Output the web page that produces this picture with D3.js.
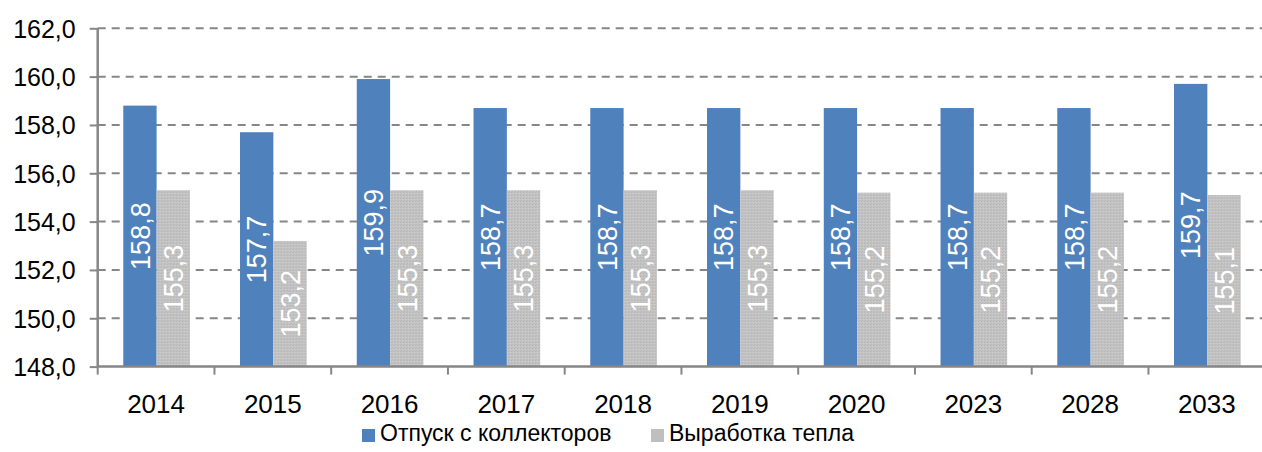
<!DOCTYPE html>
<html><head><meta charset="utf-8">
<script src="https://cdn.jsdelivr.net/npm/d3@7"></script>
<style>html,body{margin:0;padding:0;background:#fff;overflow:hidden}svg{display:block}text{font-family:"Liberation Sans",Arial,sans-serif}</style>
</head><body>
<svg id="c" width="1262" height="452"></svg>
<script>
const categories = ["2014","2015","2016","2017","2018","2019","2020","2023","2028","2033"];
const otpusk = [158.8,157.7,159.9,158.7,158.7,158.7,158.7,158.7,158.7,159.7];
const vyrabotka = [155.3,153.2,155.3,155.3,155.3,155.3,155.2,155.2,155.2,155.1];
const seriesNames = ["Отпуск с коллекторов","Выработка тепла"];
const yTicks = [148,150,152,154,156,158,160,162];

const svg = d3.select("#c");
const pL = 97.7, pR = 1265.2, pT = 28.3, pB = 366.6;
const x0 = d3.scaleBand().domain(categories).range([pL,pR]).padding(0);
const step = x0.bandwidth();
const x1 = d3.scaleBand().domain(seriesNames).range([step*0.219, step*0.79]).padding(0);
const y = d3.scaleLinear().domain([148,162]).range([pB,pT]);
const fmt = v => d3.format(".1f")(v).replace(".",",");

const defs = svg.append("defs");
const pat = defs.append("pattern").attr("id","gp").attr("width",3).attr("height",3).attr("patternUnits","userSpaceOnUse");
pat.append("rect").attr("width",3).attr("height",3).attr("fill","#c3c3c3");
pat.append("rect").attr("x",0).attr("y",0).attr("width",1).attr("height",1).attr("fill","#b2b2b2");
pat.append("rect").attr("x",2).attr("y",1).attr("width",1).attr("height",1).attr("fill","#d0d0d0");
pat.append("rect").attr("x",1).attr("y",2).attr("width",1).attr("height",1).attr("fill","#b8b8b8");
const colors = {"Отпуск с коллекторов":"#4F81BD","Выработка тепла":"url(#gp)"};
const legendColors = {"Отпуск с коллекторов":"#4F81BD","Выработка тепла":"#bfbfbf"};

// gridlines
svg.append("g").selectAll("line").data(yTicks.filter(t=>t>148)).join("line")
  .attr("x1",pL).attr("x2",1262).attr("y1",d=>y(d)).attr("y2",d=>y(d))
  .attr("stroke","#868686").attr("stroke-width",2).attr("stroke-dasharray","8,6");

// bars
const rows = categories.map((c,i)=>({cat:c, vals:[{s:seriesNames[0],v:otpusk[i]},{s:seriesNames[1],v:vyrabotka[i]}]}));
const g = svg.append("g").selectAll("g").data(rows).join("g").attr("transform",d=>`translate(${x0(d.cat)},0)`);
g.selectAll("rect").data(d=>d.vals).join("rect")
  .attr("x",d=>x1(d.s)).attr("width",x1.bandwidth())
  .attr("y",d=>y(d.v)).attr("height",d=>pB-y(d.v))
  .attr("fill",d=>colors[d.s]);
g.selectAll("text").data(d=>d.vals).join("text")
  .attr("transform",d=>`translate(${x1(d.s)+x1.bandwidth()/2},${(y(d.v)+pB)/2}) rotate(-90)`)
  .attr("text-anchor","middle").attr("dy","0.36em")
  .attr("fill","#fff").attr("font-size",27).text(d=>fmt(d.v));

// y axis
const ya = svg.append("g").attr("transform",`translate(${pL},0)`)
  .call(d3.axisLeft(y).tickValues(yTicks).tickFormat(fmt).tickSize(8).tickPadding(14));
ya.select(".domain").attr("stroke","#868686").attr("stroke-width",2.5).attr("d",`M0,${pT}V${pB}`);
ya.selectAll(".tick line").attr("stroke","#868686").attr("stroke-width",2);
ya.selectAll(".tick text").attr("font-size",25).attr("fill","#000").attr("font-family","Liberation Sans, Arial, sans-serif").attr("dy","0.36em");

// x axis
const xa = svg.append("g").attr("transform",`translate(0,${pB})`);
xa.append("line").attr("x1",pL).attr("x2",1262).attr("stroke","#868686").attr("stroke-width",2.5);
xa.selectAll(".tk").data(categories).join("line").attr("class","tk")
  .attr("x1",d=>x0(d)).attr("x2",d=>x0(d)).attr("y1",0).attr("y2",8)
  .attr("stroke","#868686").attr("stroke-width",2);
xa.selectAll(".lb").data(categories).join("text").attr("class","lb")
  .attr("x",d=>x0(d)+step/2).attr("y",46).attr("text-anchor","middle")
  .attr("font-size",26).attr("fill","#000").text(d=>d);

// legend
const leg = svg.append("g");
const lx = [362, 651];
seriesNames.forEach((s,i)=>{
  leg.append("rect").attr("x",lx[i]).attr("y",429).attr("width",13).attr("height",13).attr("fill",legendColors[s]);
  leg.append("text").attr("x",lx[i]+18).attr("y",441).attr("font-size",23).attr("fill","#000").text(s);
});
</script>
</body></html>
